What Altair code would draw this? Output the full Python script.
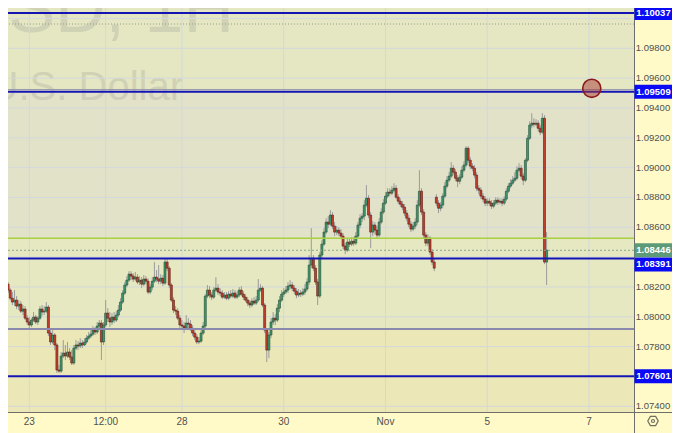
import altair as alt
import pandas as pd

# ---------------- data (EUR/USD, 1H candles; index = trading hours from Oct 23 00:00) ----------------
START_INDEX = -11
FIRST_OPEN = 1.08306
MONDAY_INDEX = 192          # first candle after the weekend gap
MONDAY_OPEN = 1.08802

closes = [
    1.08219, 1.08179, 1.08125, 1.08099, 1.08112, 1.08072, 1.08085, 1.08038, 1.08052, 1.07991,
    1.07965, 1.07945, 1.07978, 1.07998, 1.07965, 1.07991, 1.08052, 1.08032, 1.08038, 1.08065,
    1.07891, 1.07831, 1.07878, 1.07811, 1.07643, 1.07636, 1.07737, 1.07757, 1.07737, 1.07764,
    1.07730, 1.07690, 1.07790, 1.07811, 1.07804, 1.07824, 1.07811, 1.07831, 1.07857, 1.07871,
    1.07884, 1.07911, 1.07898, 1.07938, 1.07958, 1.07831, 1.07945, 1.08025, 1.07991, 1.07965,
    1.07998, 1.07978, 1.08012, 1.08045, 1.08099, 1.08159, 1.08213, 1.08246, 1.08286, 1.08273,
    1.08253, 1.08266, 1.08233, 1.08246, 1.08219, 1.08253, 1.08239, 1.08166, 1.08199, 1.08239,
    1.08266, 1.08253, 1.08239, 1.08259, 1.08226, 1.08367, 1.08326, 1.08213, 1.08112, 1.08045,
    1.08038, 1.07991, 1.07945, 1.07938, 1.07924, 1.07958, 1.07951, 1.07924, 1.07891, 1.07864,
    1.07831, 1.07837, 1.07891, 1.07938, 1.08139, 1.08179, 1.08146, 1.08132, 1.08179, 1.08192,
    1.08166, 1.08159, 1.08132, 1.08146, 1.08125, 1.08152, 1.08139, 1.08159, 1.08132, 1.08146,
    1.08179, 1.08152, 1.08132, 1.08112, 1.08092, 1.08079, 1.08105, 1.08092, 1.08112, 1.08179,
    1.08192, 1.08079, 1.07911, 1.07777, 1.07878, 1.07965, 1.07991, 1.07978, 1.08058, 1.08112,
    1.08152, 1.08166, 1.08179, 1.08206, 1.08213, 1.08192, 1.08172, 1.08146, 1.08159, 1.08152,
    1.08166, 1.08186, 1.08233, 1.08347, 1.08393, 1.08326, 1.08233, 1.08139, 1.08414, 1.08487,
    1.08568, 1.08635, 1.08621, 1.08682, 1.08608, 1.08568, 1.08581, 1.08561, 1.08541, 1.08474,
    1.08447, 1.08501, 1.08487, 1.08507, 1.08494, 1.08541, 1.08615, 1.08661, 1.08675, 1.08749,
    1.08795, 1.08682, 1.08568, 1.08615, 1.08581, 1.08548, 1.08635, 1.08702, 1.08762, 1.08809,
    1.08836, 1.08829, 1.08849, 1.08862, 1.08802, 1.08775, 1.08755, 1.08735, 1.08695, 1.08661,
    1.08621, 1.08588, 1.08608, 1.08635, 1.08749, 1.08842, 1.08702, 1.08548, 1.08494, 1.08527,
    1.08434, 1.08367, 1.08326, 1.08762, 1.08728, 1.08749, 1.08809, 1.08876, 1.08916, 1.08943,
    1.08996, 1.08970, 1.08929, 1.08909, 1.08936, 1.08983, 1.09017, 1.09130, 1.09050, 1.09010,
    1.08996, 1.08950, 1.08862, 1.08849, 1.08809, 1.08789, 1.08762, 1.08775, 1.08762, 1.08742,
    1.08762, 1.08782, 1.08769, 1.08775, 1.08762, 1.08789, 1.08842, 1.08876, 1.08896, 1.08916,
    1.08929, 1.08983, 1.08996, 1.08943, 1.08916, 1.09050, 1.09197, 1.09285, 1.09298, 1.09291,
    1.09298, 1.09264, 1.09238, 1.09331, 1.08367, 1.08447,
]

highs = [
    1.08326, 1.08233, 1.08192, 1.08166, 1.08179, 1.08139, 1.08112, 1.08105, 1.08079, 1.08072,
    1.08012, 1.07998, 1.07991, 1.08032, 1.08012, 1.08005, 1.08072, 1.08079, 1.08072, 1.08099,
    1.08079, 1.07911, 1.07911, 1.07891, 1.07824, 1.07677, 1.07764, 1.07844, 1.07811, 1.07831,
    1.07790, 1.07777, 1.07811, 1.07844, 1.07837, 1.07857, 1.07844, 1.07857, 1.07878, 1.07898,
    1.07911, 1.07938, 1.07931, 1.07965, 1.07978, 1.07978, 1.07965, 1.08112, 1.08058, 1.08032,
    1.08025, 1.08032, 1.08038, 1.08079, 1.08125, 1.08179, 1.08233, 1.08273, 1.08306, 1.08306,
    1.08293, 1.08300, 1.08286, 1.08273, 1.08266, 1.08280, 1.08273, 1.08259, 1.08219, 1.08266,
    1.08367, 1.08313, 1.08347, 1.08286, 1.08280, 1.08387, 1.08387, 1.08340, 1.08226, 1.08132,
    1.08072, 1.08058, 1.08012, 1.07978, 1.07965, 1.08012, 1.07991, 1.07978, 1.07945, 1.07911,
    1.07884, 1.07864, 1.07911, 1.07965, 1.08152, 1.08213, 1.08206, 1.08166, 1.08199, 1.08266,
    1.08219, 1.08192, 1.08179, 1.08166, 1.08166, 1.08172, 1.08179, 1.08186, 1.08179, 1.08172,
    1.08199, 1.08206, 1.08172, 1.08152, 1.08132, 1.08112, 1.08125, 1.08132, 1.08139, 1.08253,
    1.08219, 1.08206, 1.08092, 1.07924, 1.07898, 1.07991, 1.08032, 1.08018, 1.08085, 1.08139,
    1.08179, 1.08192, 1.08206, 1.08233, 1.08246, 1.08233, 1.08213, 1.08192, 1.08186, 1.08179,
    1.08192, 1.08219, 1.08259, 1.08414, 1.08594, 1.08414, 1.08347, 1.08253, 1.08434, 1.08514,
    1.08594, 1.08661, 1.08675, 1.08715, 1.08702, 1.08635, 1.08608, 1.08601, 1.08588, 1.08561,
    1.08494, 1.08527, 1.08527, 1.08534, 1.08534, 1.08568, 1.08635, 1.08688, 1.08695, 1.08782,
    1.08883, 1.08816, 1.08702, 1.08641, 1.08635, 1.08608, 1.08661, 1.08728, 1.08789, 1.08836,
    1.08862, 1.08862, 1.08876, 1.08896, 1.08883, 1.08822, 1.08795, 1.08775, 1.08755, 1.08715,
    1.08682, 1.08641, 1.08635, 1.08661, 1.08782, 1.08983, 1.08862, 1.08722, 1.08568, 1.08554,
    1.08541, 1.08454, 1.08387, 1.08822, 1.08782, 1.08769, 1.08829, 1.08903, 1.08943, 1.08970,
    1.09037, 1.09017, 1.08990, 1.08950, 1.08956, 1.09010, 1.09043, 1.09144, 1.09144, 1.09070,
    1.09030, 1.09017, 1.08970, 1.08883, 1.08869, 1.08829, 1.08809, 1.08795, 1.08795, 1.08782,
    1.08782, 1.08802, 1.08802, 1.08795, 1.08795, 1.08809, 1.08862, 1.08896, 1.08923, 1.08943,
    1.08970, 1.09010, 1.09030, 1.09017, 1.08963, 1.09063, 1.09218, 1.09311, 1.09365, 1.09331,
    1.09325, 1.09318, 1.09285, 1.09365, 1.09352, 1.08568,
]

lows = [
    1.08199, 1.08159, 1.08112, 1.08079, 1.08072, 1.08052, 1.08045, 1.08025, 1.08012, 1.07978,
    1.07945, 1.07924, 1.07931, 1.07965, 1.07951, 1.07945, 1.07978, 1.08005, 1.08012, 1.08025,
    1.07871, 1.07811, 1.07817, 1.07777, 1.07623, 1.07623, 1.07623, 1.07723, 1.07710, 1.07723,
    1.07710, 1.07677, 1.07677, 1.07777, 1.07777, 1.07790, 1.07790, 1.07804, 1.07817, 1.07844,
    1.07857, 1.07871, 1.07878, 1.07884, 1.07924, 1.07710, 1.07811, 1.07931, 1.07965, 1.07931,
    1.07945, 1.07958, 1.07965, 1.07998, 1.08032, 1.08085, 1.08146, 1.08199, 1.08233, 1.08246,
    1.08233, 1.08239, 1.08219, 1.08213, 1.08192, 1.08206, 1.08219, 1.08152, 1.08152, 1.08179,
    1.08226, 1.08233, 1.08219, 1.08219, 1.08206, 1.08213, 1.08306, 1.08192, 1.08099, 1.08025,
    1.08012, 1.07978, 1.07924, 1.07911, 1.07891, 1.07911, 1.07924, 1.07904, 1.07871, 1.07844,
    1.07817, 1.07817, 1.07824, 1.07878, 1.07924, 1.08125, 1.08125, 1.08112, 1.08119, 1.08166,
    1.08146, 1.08139, 1.08119, 1.08119, 1.08112, 1.08112, 1.08125, 1.08125, 1.08119, 1.08119,
    1.08132, 1.08139, 1.08112, 1.08099, 1.08072, 1.08058, 1.08065, 1.08079, 1.08079, 1.08099,
    1.08166, 1.08065, 1.07891, 1.07697, 1.07723, 1.07857, 1.07945, 1.07945, 1.07965, 1.08032,
    1.08099, 1.08132, 1.08152, 1.08159, 1.08186, 1.08172, 1.08152, 1.08125, 1.08132, 1.08132,
    1.08139, 1.08146, 1.08172, 1.08213, 1.08326, 1.08306, 1.08213, 1.08079, 1.08125, 1.08393,
    1.08474, 1.08554, 1.08594, 1.08608, 1.08588, 1.08541, 1.08548, 1.08541, 1.08521, 1.08454,
    1.08420, 1.08434, 1.08467, 1.08474, 1.08474, 1.08481, 1.08527, 1.08594, 1.08635, 1.08648,
    1.08735, 1.08661, 1.08460, 1.08541, 1.08554, 1.08527, 1.08534, 1.08621, 1.08688, 1.08749,
    1.08795, 1.08809, 1.08816, 1.08836, 1.08789, 1.08755, 1.08735, 1.08715, 1.08675, 1.08641,
    1.08601, 1.08568, 1.08574, 1.08588, 1.08615, 1.08735, 1.08682, 1.08527, 1.08474, 1.08474,
    1.08414, 1.08347, 1.08306, 1.08742, 1.08695, 1.08708, 1.08728, 1.08795, 1.08862, 1.08903,
    1.08929, 1.08950, 1.08909, 1.08869, 1.08889, 1.08923, 1.08970, 1.09003, 1.09030, 1.08990,
    1.08976, 1.08929, 1.08842, 1.08822, 1.08789, 1.08769, 1.08742, 1.08742, 1.08742, 1.08722,
    1.08728, 1.08749, 1.08749, 1.08755, 1.08742, 1.08749, 1.08775, 1.08829, 1.08862, 1.08883,
    1.08903, 1.08916, 1.08970, 1.08923, 1.08883, 1.08903, 1.09037, 1.09184, 1.09264, 1.09271,
    1.09278, 1.09244, 1.09218, 1.09224, 1.08353, 1.08213,
]

# time axis ticks (trading-hour index) and their labels
tick_hours = [0, 36, 72, 120, 168, 216, 264]
tick_labels = ["23", "12:00", "28", "30", "Nov", "5", "7"]

# price grid and the price-scale labels that are not hidden behind level boxes
price_grid = [1.100, 1.098, 1.096, 1.094, 1.092, 1.090, 1.088, 1.086,
              1.084, 1.082, 1.080, 1.078, 1.076, 1.074]
price_labels_shown = [1.098, 1.096, 1.094, 1.092, 1.090, 1.088, 1.086,
                      1.082, 1.080, 1.078, 1.074]

# drawn horizontal levels
blue_levels = [1.10037, 1.09509, 1.08391, 1.07601]
lightblue_level = 1.10084
dotted_level = 1.09963
gray_level = 1.09524
green_level = 1.08527
purple_level = 1.07918
last_price = 1.08446

# shaded zones (upper, lower, colour)
zone_top = [1.10124, 1.09524, 1.08527, 1.07918]
zone_bottom = [1.09524, 1.08527, 1.07918, 1.07221]
zone_colors = ["#e5e7c3", "#e2e2c9", "#e5e8c0", "#ebe7b7"]

# marker circle annotation
circle_hour = 265.3
circle_price = 1.09532

# ---------------- build tables ----------------
n = min(len(closes), len(highs), len(lows))
hours = list(range(START_INDEX, START_INDEX + n))
opens = [FIRST_OPEN] + closes[: n - 1]
opens[MONDAY_INDEX - START_INDEX] = MONDAY_OPEN
candles = pd.DataFrame({
    "t": hours, "open": opens, "high": highs[:n], "low": lows[:n], "close": closes[:n],
})
candles["dir"] = ["up" if c >= o else "down" for o, c in zip(candles["open"], candles["close"])]

VIEW_W, VIEW_H = 672, 433
X_DOMAIN = [-11.478, (VIEW_W - 24.7) / 2.152]
Y_DOMAIN = [1.07221, 1.10124]
xs = alt.Scale(domain=X_DOMAIN, nice=False, zero=False)
ys = alt.Scale(domain=Y_DOMAIN, nice=False, zero=False)
PLOT_R = 634
PLOT_B = 412
LABEL_X = 653
GRID = "#d3d8dc"
AXIS_BG = "#fffac8"
LABEL_FONT = "Liberation Sans Narrow, Liberation Sans, Arial, sans-serif"
LABEL_SIZE = 9.5

zones = pd.DataFrame({"top": zone_top, "bottom": zone_bottom, "color": zone_colors})
zone_layer = alt.Chart(zones).mark_rect().encode(
    x=alt.value(0), x2=alt.value(PLOT_R),
    y=alt.Y("top:Q", scale=ys, axis=None), y2="bottom:Q",
    color=alt.Color("color:N", scale=None),
)

hgrid = alt.Chart(pd.DataFrame({"p": price_grid})).mark_rule(color=GRID, strokeWidth=1).encode(
    y=alt.Y("p:Q", scale=ys, axis=None), x=alt.value(0), x2=alt.value(PLOT_R))
vgrid = alt.Chart(pd.DataFrame({"t": tick_hours})).mark_rule(color=GRID, strokeWidth=1).encode(
    x=alt.X("t:Q", scale=xs, axis=None), y=alt.value(0), y2=alt.value(PLOT_B))

wm1 = alt.Chart(pd.DataFrame({"s": ["EURUSD, 1H"]})).mark_text(
    font="Liberation Sans", fontSize=70, color="#808080", opacity=0.2,
    align="right", baseline="alphabetic").encode(
    x=alt.value(234), y=alt.value(32), text="s:N")
wm2 = alt.Chart(pd.DataFrame({"s": ["Euro / U.S. Dollar"]})).mark_text(
    font="Liberation Sans", fontSize=40, color="#808080", opacity=0.2,
    align="right", baseline="alphabetic").encode(
    x=alt.value(183), y=alt.value(100), text="s:N")

def level_rule(values, color, width, dash=None):
    kw = dict(color=color, strokeWidth=width)
    if dash:
        kw["strokeDash"] = dash
    return alt.Chart(pd.DataFrame({"p": values})).mark_rule(**kw).encode(
        y=alt.Y("p:Q", scale=ys, axis=None), x=alt.value(0), x2=alt.value(PLOT_R))

lines = [
    level_rule([lightblue_level], "#4aa8dc", 1.5),
    level_rule([dotted_level], "#9a9a8c", 1, [1, 2]),
    level_rule([gray_level], "#9a9aae", 1),
    level_rule([green_level], "#a8d040", 1.5),
    level_rule([last_price], "#8aa890", 1, [2, 2]),
    level_rule([purple_level], "#8a8aae", 2),
    level_rule(blue_levels, "#1414b4", 2),
]

cbase = alt.Chart(candles)
wicks = cbase.mark_rule(color="#9b9b9b", strokeWidth=1).encode(
    x=alt.X("t:Q", scale=xs, axis=None),
    y=alt.Y("low:Q", scale=ys, axis=None), y2="high:Q")
bodies = cbase.mark_bar(size=2.0, strokeWidth=0.6).encode(
    x=alt.X("t:Q", scale=xs, axis=None),
    y=alt.Y("open:Q", scale=ys, axis=None), y2="close:Q",
    fill=alt.Fill("dir:N", scale=alt.Scale(domain=["up", "down"], range=["#3f9a6c", "#c0402e"]), legend=None),
    stroke=alt.Stroke("dir:N", scale=alt.Scale(domain=["up", "down"], range=["#1f4d36", "#5e1a12"]), legend=None),
)

circle = alt.Chart(pd.DataFrame({"t": [circle_hour], "p": [circle_price]})).mark_point(
    shape="circle", size=330, filled=True, fill="#a83a32", fillOpacity=0.5,
    stroke="#8b1a1a", strokeWidth=1.6, strokeOpacity=1).encode(
    x=alt.X("t:Q", scale=xs, axis=None), y=alt.Y("p:Q", scale=ys, axis=None))

one = pd.DataFrame({"a": [0]})
right_bg = alt.Chart(one).mark_rect(color=AXIS_BG).encode(
    x=alt.value(PLOT_R), x2=alt.value(VIEW_W), y=alt.value(0), y2=alt.value(VIEW_H))
bottom_bg = alt.Chart(one).mark_rect(color=AXIS_BG).encode(
    x=alt.value(0), x2=alt.value(VIEW_W), y=alt.value(PLOT_B), y2=alt.value(VIEW_H))
vborder = alt.Chart(one).mark_rule(color="#6e6e6e", strokeWidth=1).encode(
    x=alt.value(PLOT_R + 0.5), y=alt.value(0), y2=alt.value(VIEW_H))
hborder = alt.Chart(one).mark_rule(color="#6e6e6e", strokeWidth=1).encode(
    x=alt.value(0), x2=alt.value(VIEW_W), y=alt.value(PLOT_B + 0.5))

price_labels = alt.Chart(pd.DataFrame({"p": price_labels_shown})).mark_text(
    font=LABEL_FONT, fontSize=LABEL_SIZE, color="#505050", align="center", baseline="middle").encode(
    x=alt.value(LABEL_X), y=alt.Y("p:Q", scale=ys, axis=None), text=alt.Text("p:Q", format=".5f"))

time_labels = alt.Chart(pd.DataFrame({"t": tick_hours, "lab": tick_labels})).mark_text(
    font=LABEL_FONT, fontSize=10, color="#505050", align="center", baseline="middle").encode(
    x=alt.X("t:Q", scale=xs, axis=None), y=alt.value(422), text="lab:N")

# level box: 38px wide (axis border to the visible right edge), 14px tall
BOX = "M-1,-0.368L1,-0.368L1,0.368L-1,0.368Z"

def price_box(values, color, yoff=0):
    df = pd.DataFrame({"p": values})
    box = alt.Chart(df).mark_point(shape=BOX, size=1444, filled=True, fill=color,
                                   fillOpacity=1, strokeWidth=0, yOffset=yoff).encode(
        x=alt.value(PLOT_R + 19.5), y=alt.Y("p:Q", scale=ys, axis=None))
    txt = alt.Chart(df).mark_text(font=LABEL_FONT, fontSize=LABEL_SIZE, fontWeight="bold", color="white",
                                  align="center", baseline="middle", yOffset=yoff).encode(
        x=alt.value(LABEL_X + 0.5), y=alt.Y("p:Q", scale=ys, axis=None), text=alt.Text("p:Q", format=".5f"))
    return [box, txt]

boxes = (price_box([blue_levels[0], blue_levels[1], blue_levels[3]], "#0a0af5")
         + price_box([last_price], "#5c9a78")
         + price_box([blue_levels[2]], "#0a0af5", 6))

gear = alt.Chart(one).mark_point(
    shape="M-1,0L-0.5,-0.866L0.5,-0.866L1,0L0.5,0.866L-0.5,0.866Z", size=110,
    filled=False, stroke="#333333", strokeWidth=1.2).encode(x=alt.value(LABEL_X), y=alt.value(421))
gear_dot = alt.Chart(one).mark_point(shape="circle", size=9, filled=False,
                                     stroke="#333333", strokeWidth=1.2).encode(
    x=alt.value(LABEL_X), y=alt.value(421))

layers = ([zone_layer, wm1, wm2, hgrid, vgrid, wicks, bodies] + lines + [circle,
          right_bg, bottom_bg, vborder, hborder, price_labels, time_labels] + boxes + [gear, gear_dot])

# view coordinates equal page coordinates: the 8px page margin is cancelled by negative padding,
# and the svg stays 664px wide so the page does not shrink it.
chart = alt.layer(*layers).properties(
    width=VIEW_W, height=VIEW_H,
    autosize="none",
    padding={"left": -8, "top": -8, "right": 0, "bottom": 0},
    background=AXIS_BG,
).configure_view(stroke=None)

chart.save("out.html", embed_options={"renderer": "svg", "actions": False})
